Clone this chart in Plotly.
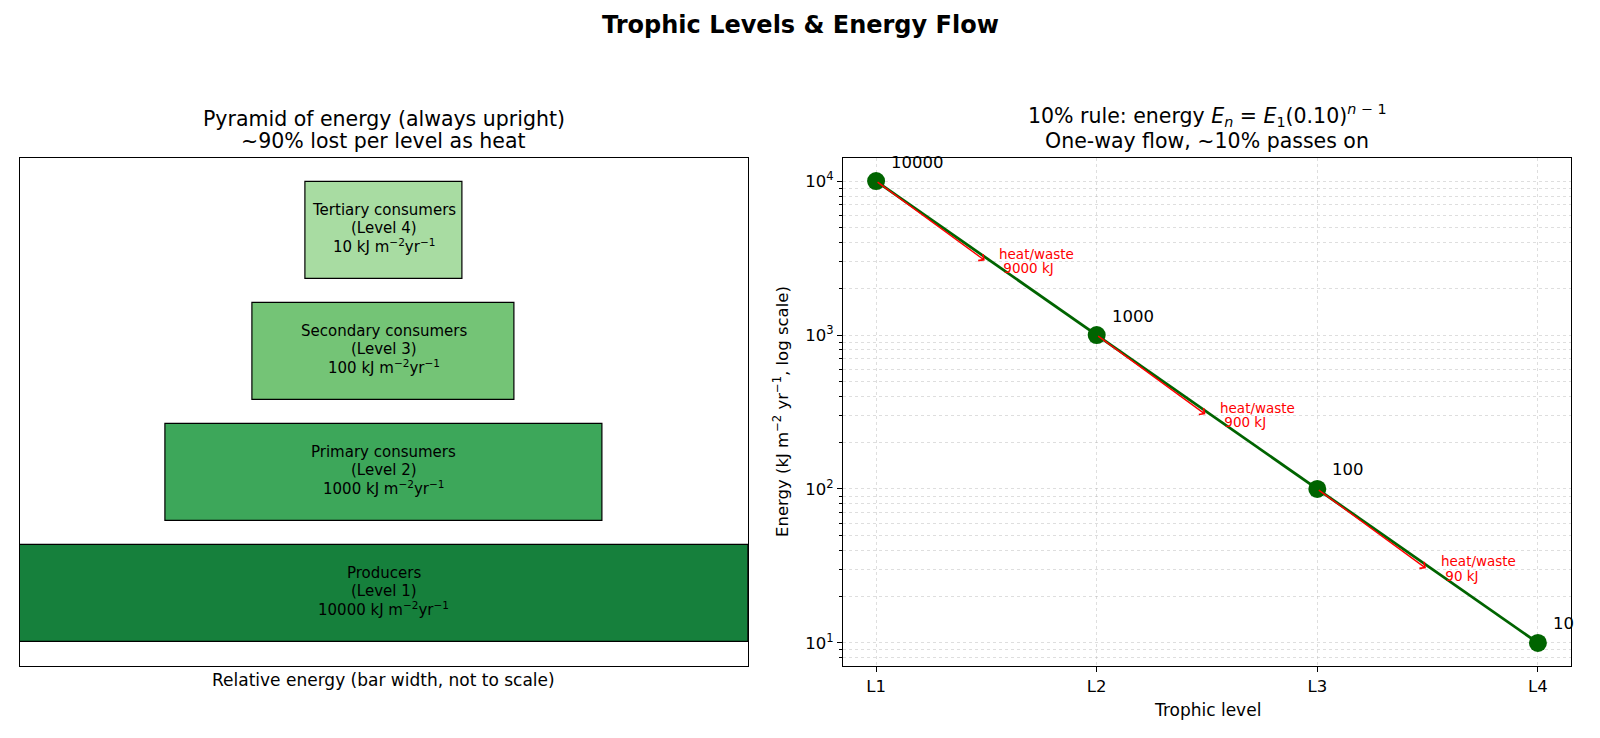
import numpy as np
import plotly.graph_objects as go

# ---------------- data ----------------
level_names = ["Producers", "Primary consumers", "Secondary consumers", "Tertiary consumers"]
level_nums = [1, 2, 3, 4]
energy = [10000, 1000, 100, 10]
bar_widths = [1.0, 0.6, 0.36, 0.216]
bar_colors = ["#16803c", "#3da75a", "#74c476", "#a8dca2"]
tick_labels = ["L1", "L2", "L3", "L4"]
heat_loss = [9000, 900, 90]

W, H = 1600, 738
FONT = "DejaVu Sans"

def px(xp):
    return xp / W

def py(yp):
    return 1 - yp / H

# axes boxes (pixels)
L_X0, L_X1 = 19.5, 748
R_X0, R_X1 = 843, 1571
Y0, Y1 = 158, 666

fig = go.Figure()

# ---------------- left: pyramid ----------------
ypos = list(range(len(energy)))
fig.add_trace(go.Bar(
    orientation="h",
    y=ypos,
    x=bar_widths,
    base=[-w / 2 for w in bar_widths],
    width=0.8,
    marker=dict(color=bar_colors, line=dict(color="black", width=1.2)),
    xaxis="x", yaxis="y",
    hoverinfo="skip",
    showlegend=False,
))

annotations = []
BAR_FS = 15
for i, (n, l, e) in enumerate(zip(level_names, level_nums, energy)):
    lines = [n, f"(Level {l})", f"{e} kJ m<sup>−2</sup>yr<sup>−1</sup>"]
    for k, t in enumerate(lines):
        annotations.append(dict(
            x=0, y=ypos[i], xref="x", yref="y", text=t, showarrow=False,
            xanchor="center", yanchor="middle", yshift=18 * (1 - k) + 2.5,
            font=dict(family=FONT, size=BAR_FS, color="black"),
        ))

# ---------------- right: 10% rule ----------------
xs = list(range(len(energy)))
fig.add_trace(go.Scatter(
    x=xs, y=energy, mode="lines+markers",
    line=dict(color="#006400", width=2.8),
    marker=dict(color="#006400", size=18),
    xaxis="x2", yaxis="y2", hoverinfo="skip", showlegend=False,
))

# value labels
for i, e in enumerate(energy):
    annotations.append(dict(
        x=i, y=np.log10(e), xref="x2", yref="y2", text=str(e), showarrow=False,
        xanchor="left", yanchor="middle", xshift=13, yshift=19,
        font=dict(family=FONT, size=16.5, color="black"),
    ))
# heat loss arrows + text
for i, loss in enumerate(heat_loss):
    e = energy[i]
    annotations.append(dict(
        x=i + 0.5, y=np.log10(e * 0.3), xref="x2", yref="y2",
        ax=i, ay=np.log10(e), axref="x2", ayref="y2",
        text="", showarrow=True, arrowhead=4, arrowsize=1.1, arrowwidth=1.4,
        arrowcolor="red", standoff=2, startstandoff=0,
    ))
    for k, t in enumerate(["heat/waste", f"\u00a0{loss} kJ"]):
        annotations.append(dict(
            x=i + 0.55, y=np.log10(e * 0.3), xref="x2", yref="y2",
            text=t, showarrow=False,
            xanchor="left", yanchor="middle", yshift=8 - 14.5 * k,
            font=dict(family=FONT, size=13.5, color="red"),
        ))

# titles
annotations += [
    dict(x=0.5, y=py(24.5), xref="paper", yref="paper", showarrow=False,
         text="<b>Trophic Levels & Energy Flow</b>", xanchor="center", yanchor="middle",
         font=dict(family=FONT, size=24, color="black")),
    dict(x=px((L_X0 + L_X1) / 2), y=py(119), xref="paper", yref="paper", showarrow=False,
         text="Pyramid of energy (always upright)",
         xanchor="center", yanchor="middle",
         font=dict(family=FONT, size=20.5, color="black")),
    dict(x=px((L_X0 + L_X1) / 2), y=py(141.5), xref="paper", yref="paper", showarrow=False,
         text="~90% lost per level as heat",
         xanchor="center", yanchor="middle",
         font=dict(family=FONT, size=20.5, color="black")),
    dict(x=px((R_X0 + R_X1) / 2), y=py(116), xref="paper", yref="paper", showarrow=False,
         text="10% rule: energy <i>E<sub>n</sub></i> = <i>E</i><sub>1</sub>(0.10)<sup><i>n</i> − 1</sup>",
         xanchor="center", yanchor="middle",
         font=dict(family=FONT, size=20.5, color="black")),
    dict(x=px((R_X0 + R_X1) / 2), y=py(141.5), xref="paper", yref="paper", showarrow=False,
         text="One-way flow, ~10% passes on",
         xanchor="center", yanchor="middle",
         font=dict(family=FONT, size=20.5, color="black")),
    dict(x=px((L_X0 + L_X1) / 2), y=py(680), xref="paper", yref="paper", showarrow=False,
         text="Relative energy (bar width, not to scale)", xanchor="center", yanchor="middle",
         font=dict(family=FONT, size=17, color="black")),
    dict(x=px((R_X0 + R_X1) / 2), y=py(710), xref="paper", yref="paper", showarrow=False,
         text="Trophic level", xanchor="center", yanchor="middle",
         font=dict(family=FONT, size=17, color="black")),
    dict(x=px(781), y=py((Y0 + Y1) / 2), xref="paper", yref="paper", showarrow=False,
         text="Energy (kJ m<sup>−2</sup> yr<sup>−1</sup>, log scale)", textangle=-90,
         xanchor="center", yanchor="middle",
         font=dict(family=FONT, size=16.5, color="black")),
]

minor_vals = [m * 10 ** k for k in range(0, 5) for m in range(2, 10)]
grid_col = "rgba(176,176,176,0.42)"

fig.update_layout(
    width=W, height=H,
    margin=dict(l=0, r=0, t=0, b=0),
    paper_bgcolor="white", plot_bgcolor="white",
    font=dict(family=FONT, size=16, color="black"),
    bargap=0,
    xaxis=dict(domain=[px(L_X0), px(L_X1)], range=[-0.5, 0.5], showticklabels=False,
               ticks="", showgrid=False, zeroline=False, showline=True, mirror=True,
               linecolor="black", linewidth=1, automargin=False, fixedrange=True),
    yaxis=dict(domain=[py(Y1), py(Y0)], range=[-0.6, 3.6], showticklabels=False,
               ticks="", showgrid=False, zeroline=False, showline=True, mirror=True,
               linecolor="black", linewidth=1, automargin=False, fixedrange=True),
    xaxis2=dict(domain=[px(R_X0), px(R_X1)], range=[-0.15, 3.15], anchor="y2",
                tickmode="array", tickvals=xs, ticktext=tick_labels,
                ticks="outside", ticklen=5, tickcolor="black",
                tickfont=dict(family=FONT, size=16.5, color="black"),
                showgrid=True, gridcolor=grid_col, griddash="dot", gridwidth=0.9,
                zeroline=False, showline=True, mirror=True, linecolor="black",
                linewidth=1, automargin=False),
    yaxis2=dict(domain=[py(Y1), py(Y0)], type="log", range=[0.85, 4.15], anchor="x2",
                tickmode="array", tickvals=[10, 100, 1000, 10000],
                ticktext=["10<sup>1</sup>", "10<sup>2</sup>", "10<sup>3</sup>", "10<sup>4</sup>"],
                ticks="outside", ticklen=5, tickcolor="black",
                tickfont=dict(family=FONT, size=16.5, color="black"),
                showgrid=True, gridcolor=grid_col, griddash="dot", gridwidth=0.9,
                minor=dict(tickmode="array", tickvals=minor_vals, ticks="outside",
                           ticklen=3, tickcolor="black", showgrid=True,
                           gridcolor=grid_col, griddash="dot", gridwidth=0.9),
                zeroline=False, showline=True, mirror=True, linecolor="black",
                linewidth=1, automargin=False),
    annotations=annotations,
)

fig.write_html("out.html")
